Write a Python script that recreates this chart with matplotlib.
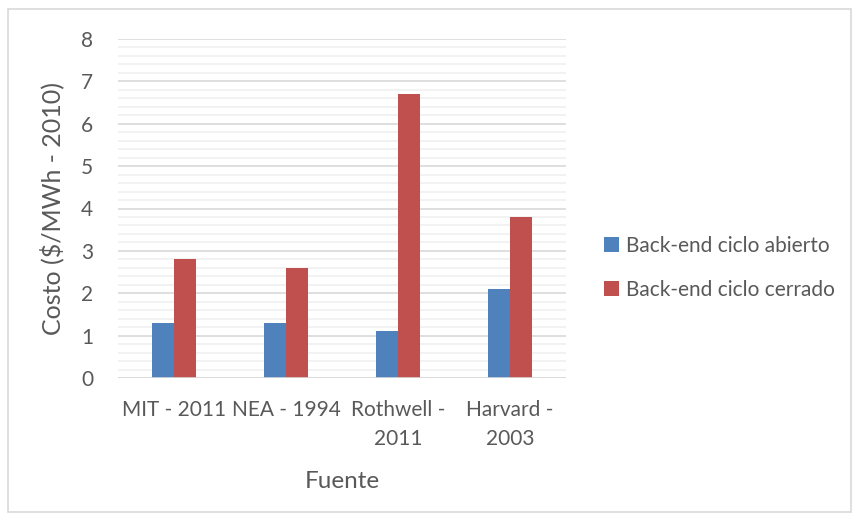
import matplotlib.pyplot as plt
import numpy as np
from matplotlib.patches import Rectangle
from matplotlib.ticker import MultipleLocator

## data ##
fuentes = ["MIT - 2011", "NEA - 1994", "Rothwell -\n2011", "Harvard -\n2003"]
abierto = [1.3, 1.3, 1.1, 2.1]
cerrado = [2.8, 2.6, 6.7, 3.8]
series_names = ["Back-end ciclo abierto", "Back-end ciclo cerrado"]

plt.rcParams['font.family'] = ['Lato', 'DejaVu Sans']
txt = "#595959"

fig = plt.figure(figsize=(8.58, 5.2), dpi=100)
# light outer border like the Excel chart area
fig.patches.append(Rectangle((8/858, 8/520), 843/858, 503/520, transform=fig.transFigure,
                             fill=False, edgecolor="#d9d9d9", linewidth=1.2))

ax = fig.add_axes([118/858, 1-378/520, 448/858, 339/520])

x = np.arange(len(fuentes))
w = 0.2
ax.bar(x - w/2, abierto, w, color="#4F81BD", label=series_names[0], zorder=3)
ax.bar(x + w/2, cerrado, w, color="#C0504D", label=series_names[1], zorder=3)

ax.set_xlim(-0.5, len(fuentes) - 0.5)
ax.set_ylim(0, 8)
ax.yaxis.set_major_locator(MultipleLocator(1))
ax.yaxis.set_minor_locator(MultipleLocator(0.2))
ax.grid(which="major", axis="y", color="#d9d9d9", linewidth=1.2, zorder=0)
ax.grid(which="minor", axis="y", color="#f0f0f0", linewidth=1.2, zorder=0)
ax.axhline(0, color="#d9d9d9", linewidth=1.2, zorder=4)

for s in ax.spines.values():
    s.set_visible(False)
ax.tick_params(axis="both", which="both", length=0, colors=txt, labelsize=15)
ax.tick_params(axis="y", pad=18)
ax.tick_params(axis="x", pad=16)
ax.set_xticks(x)
ax.set_xticklabels(fuentes, linespacing=1.55)

ax.set_ylabel("Costo ($/MWh - 2010)", fontsize=18, color=txt, labelpad=12)
ax.set_xlabel("Fuente", fontsize=17.5, color=txt, labelpad=16)

ax.legend(loc="center left", bbox_to_anchor=(604/858, 1-268/520), bbox_transform=fig.transFigure,
          frameon=False, fontsize=15, labelcolor=txt, handlelength=0.7, handleheight=0.7,
          handletextpad=0.35, labelspacing=1.15, borderpad=0, borderaxespad=0)

fig.savefig("out.png", dpi=100)
